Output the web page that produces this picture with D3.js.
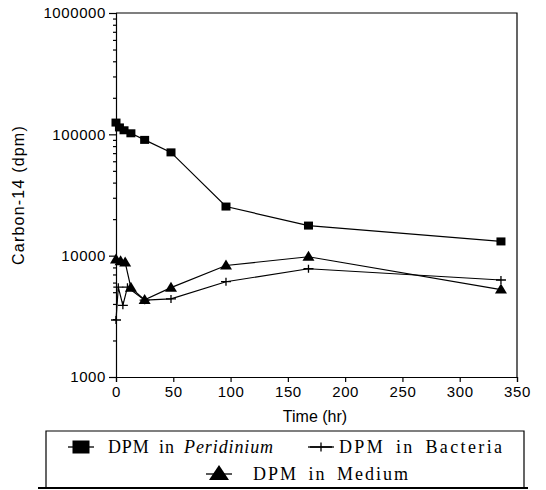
<!DOCTYPE html>
<html>
<head>
<meta charset="utf-8">
<script src="https://cdn.jsdelivr.net/npm/d3@7"></script>
<style>
  body { margin: 0; background: #fff; }
  svg { display: block; }
</style>
</head>
<body>
<svg id="chart"></svg>
<script>
// data (time in hr, dpm)
var periTime = [0, 3, 7, 13, 25, 48, 96, 168, 336];
var periDpm  = [125000, 114000, 108000, 102000, 90000, 71000, 25400, 17700, 13100];

var bactTime = [0, 2, 6, 10, 25, 48, 96, 168, 336];
var bactDpm  = [2950, 5500, 3900, 5500, 4300, 4400, 6100, 7800, 6300];

var medTime = [0, 4, 8, 13, 25, 48, 96, 168, 336];
var medDpm  = [9300, 9000, 8800, 5450, 4320, 5450, 8300, 9800, 5250];

var xTicks = [0, 50, 100, 150, 200, 250, 300, 350];
var yTicks = [1000, 10000, 100000, 1000000];

var svg = d3.select("svg#chart").attr('width', 546).attr('height', 490);

var x = d3.scaleLinear().domain([0, 350]).range([116, 517]);
var y = d3.scaleLog().domain([1000, 1000000]).range([377, 13]);

// minor ticks 2..9 in each decade
var minor = [];
yTicks.slice(0, 3).forEach(function(d) {
  for (var k = 2; k < 10; k++) minor.push(d * k);
});

var font = "'Liberation Sans', Arial, sans-serif";

// frame (top and right)
svg.append('path')
  .attr('d', 'M' + x(0) + ',' + y(1000000) + 'H' + x(350) + 'V' + y(1000))
  .attr('fill', 'none').attr('stroke', '#000').attr('stroke-width', 1.2);

// axes
var gy = svg.append('g').attr('transform', 'translate(' + x(0) + ',0)')
  .call(d3.axisLeft(y).tickValues(yTicks).tickSize(7).tickPadding(3).tickFormat(d3.format('d')));
var gym = svg.append('g').attr('transform', 'translate(' + x(0) + ',0)')
  .call(d3.axisLeft(y).tickValues(minor).tickSize(3).tickFormat(''));
gym.select('.domain').remove();

var gx = svg.append('g').attr('transform', 'translate(0,' + y(1000) + ')')
  .call(d3.axisBottom(x).tickValues(xTicks).tickSize(5).tickPadding(4));

[gy, gym, gx].forEach(function(g) {
  g.selectAll('path,line').attr('stroke', '#000').attr('stroke-width', 1.2);
  g.selectAll('text').attr('fill', '#000')
    .style('font-family', font).style('font-size', '15px').style('letter-spacing', '0.6px');
});

// axis titles
svg.append('text')
  .attr('transform', 'translate(24,195) rotate(-90)')
  .attr('text-anchor', 'middle')
  .style('font-family', font).style('font-size', '16px').style('letter-spacing', '1.2px')
  .text('Carbon-14 (dpm)');

svg.append('text')
  .attr('x', 315).attr('y', 422)
  .attr('text-anchor', 'middle')
  .style('font-family', font).style('font-size', '16px')
  .text('Time (hr)');

// series
function series(times, vals) {
  return times.map(function(t, i) { return [t, vals[i]]; });
}
var line = d3.line().x(function(d) { return x(d[0]); }).y(function(d) { return y(d[1]); });

var peri = series(periTime, periDpm);
var bact = series(bactTime, bactDpm);
var med = series(medTime, medDpm);

[peri, bact, med].forEach(function(s) {
  svg.append('path').datum(s).attr('d', line)
    .attr('fill', 'none').attr('stroke', '#000').attr('stroke-width', 1.2);
});

function square(g, w, h) {
  g.append('rect').attr('x', -w / 2).attr('y', -h / 2).attr('width', w).attr('height', h).attr('fill', '#000');
}
function triangle(g, w, h) {
  g.append('path').attr('d', 'M0,' + (-h * 0.6) + 'L' + (w / 2) + ',' + (h * 0.4) + 'L' + (-w / 2) + ',' + (h * 0.4) + 'Z')
    .attr('fill', '#000');
}
function plus(g, w, h) {
  g.append('path').attr('d', 'M' + (-w / 2) + ',0H' + (w / 2) + 'M0,' + (-h / 2) + 'V' + (h / 2))
    .attr('stroke', '#000').attr('stroke-width', 1.3).attr('fill', 'none');
}

svg.selectAll('g.peri').data(peri).enter().append('g')
  .attr('transform', function(d) { return 'translate(' + x(d[0]) + ',' + y(d[1]) + ')'; })
  .each(function() { square(d3.select(this), 9, 8); });
svg.selectAll('g.bact').data(bact).enter().append('g')
  .attr('transform', function(d) { return 'translate(' + x(d[0]) + ',' + y(d[1]) + ')'; })
  .each(function() { plus(d3.select(this), 10, 8); });
svg.selectAll('g.med').data(med).enter().append('g')
  .attr('transform', function(d) { return 'translate(' + x(d[0]) + ',' + y(d[1]) + ')'; })
  .each(function() { triangle(d3.select(this), 12, 10); });

// legend
var lg = svg.append('g');
lg.append('path')
  .attr('d', 'M46,489V431H524V489')
  .attr('fill', 'none').attr('stroke', '#000').attr('stroke-width', 1.2);
lg.append('line').attr('x1', 38).attr('x2', 528).attr('y1', 488).attr('y2', 488)
  .attr('stroke', '#000').attr('stroke-width', 2);

var serif = "'Liberation Serif', 'Times New Roman', serif";
var items = [
  { label: 'DPM in ', it: 'Peridinium', mx: 81, my: 447, tx: 108, w: 165, mark: 'square' },
  { label: 'DPM in Bacteria', it: '', mx: 321, my: 447, tx: 339, w: 163, mark: 'plus' },
  { label: 'DPM in Medium', it: '', mx: 219, my: 474, tx: 253, w: 155, mark: 'triangle' }
];
items.forEach(function(d) {
  var g = lg.append('g').attr('transform', 'translate(' + d.mx + ',' + d.my + ')');
  g.append('line').attr('x1', -13).attr('x2', 13).attr('stroke', '#000').attr('stroke-width', 1.3);
  if (d.mark === 'square') square(g, 17, 13);
  if (d.mark === 'triangle') triangle(g, 20, 15);
  if (d.mark === 'plus') plus(g, 22, 9);
  var t = lg.append('text').attr('x', d.tx).attr('y', d.my + 6)
    .attr('textLength', d.w).attr('lengthAdjust', 'spacing')
    .style('font-family', serif).style('font-size', '18px')
    .style('word-spacing', '4px')
    .text(d.label);
  if (d.it) t.append('tspan').style('font-style', 'italic').text(d.it);
});
</script>
</body>
</html>
